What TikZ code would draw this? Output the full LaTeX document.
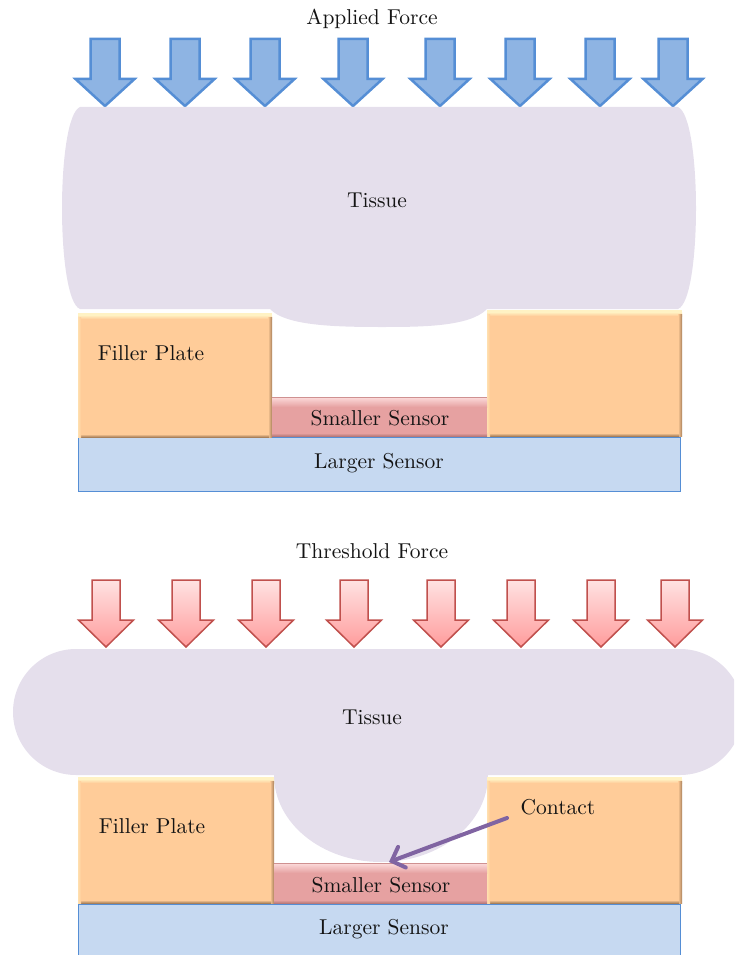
\documentclass[tikz,border=0pt]{standalone}
\usetikzlibrary{arrows.meta}

\definecolor{tissuecol}{HTML}{E5DFEC}
\definecolor{bluefill}{HTML}{8EB4E3}
\definecolor{bluedraw}{HTML}{558ED5}
\definecolor{redtop}{HTML}{FFE2E2}
\definecolor{redbot}{HTML}{FF9C9C}
\definecolor{reddraw}{HTML}{C0504D}
\definecolor{plateor}{HTML}{FFCC99}
\definecolor{platehi}{HTML}{FFF2C4}
\definecolor{platedk}{HTML}{A8805A}
\definecolor{sensred}{HTML}{E6A1A1}
\definecolor{sensredhi}{HTML}{FAD6D6}
\definecolor{sensreddk}{HTML}{B87A7A}
\definecolor{largefill}{HTML}{C6D9F1}
\definecolor{contactcol}{HTML}{8064A2}

\tikzset{
  lbl/.style={font=\fontsize{10}{12}\selectfont, scale=2.15, text=black!92, inner sep=0pt},
  blockbox/.style={draw=none, inner sep=0pt, outer sep=0pt, anchor=north west},
  plate/.style={blockbox, fill=plateor, path picture={
      \fill[platehi] (path picture bounding box.north west) rectangle ([yshift=-2pt]path picture bounding box.north east);
      \shade[top color=platehi, bottom color=plateor]
        ([yshift=-2pt]path picture bounding box.north west) rectangle ([yshift=-6pt]path picture bounding box.north east);
      \shade[left color=plateor, right color=platedk]
        ([xshift=-4pt,yshift=-4pt]path picture bounding box.north east) rectangle (path picture bounding box.south east);
      \shade[top color=plateor, bottom color=platedk]
        ([yshift=3pt]path picture bounding box.south west) rectangle ([xshift=-3pt]path picture bounding box.south east);
      \shade[left color=platehi!50!plateor, right color=plateor]
        ([yshift=-4pt]path picture bounding box.north west) rectangle ([xshift=3pt]path picture bounding box.south west);
  }},
  smallsens/.style={blockbox, fill=sensred, path picture={
      \fill[sensred!90!black] (path picture bounding box.north west) rectangle ([yshift=-1pt]path picture bounding box.north east);
      \shade[top color=sensredhi, bottom color=sensred]
        ([yshift=-1pt]path picture bounding box.north west) rectangle ([yshift=-10pt]path picture bounding box.north east);
      \shade[top color=sensred, bottom color=sensreddk]
        ([yshift=3pt]path picture bounding box.south west) rectangle (path picture bounding box.south east);
  }},
  largesens/.style={blockbox, fill=largefill, draw=bluedraw, line width=1pt},
  bluearrow/.style={fill=bluefill, draw=bluedraw, line width=2.5pt},
  redarrow/.style={top color=redtop, bottom color=redbot, draw=reddraw, line width=1.5pt},
  contactarrow/.style={draw=contactcol, line width=4pt, line cap=round,
      -{Straight Barb[length=11pt, width=22pt, line cap=round]}},
}

\begin{document}
\begin{tikzpicture}[x=1pt, y=-1pt]
\useasboundingbox (0,0) rectangle (734,955);
\clip (0,0) rectangle (734,955);

% ---------------- upper panel: applied force ----------------
\node[lbl] (appliedlbl) at (372,19) {Applied Force};

\foreach \c in {105,185,265,353,440,520,600,673}{
  \path[bluearrow] ({\c-14.5},39) -- ({\c+14.5},39) -- ({\c+14.5},79) -- ({\c+29.5},79)
    -- (\c,106) -- ({\c-29.5},79) -- ({\c-14.5},79) -- cycle;
}

% tissue resting on the plates
\fill[tissuecol]
  (80,107) -- (678,107)
  .. controls (702,117) and (702,300) .. (678,309)
  -- (487,309)
  .. controls (470,327) and (420,327) .. (380,327)
  .. controls (330,327) and (285,325) .. (270,309)
  -- (80,309)
  .. controls (56,300) and (56,117) .. (80,107) -- cycle;
\node[lbl] (tissueA) at (377,200) {Tissue};

\node[largesens, minimum width=602pt, minimum height=54pt] (largeA) at (78,437) {};
\node[plate, minimum width=194pt, minimum height=124pt] (plateAL) at (78,313) {};
\node[plate, minimum width=195pt, minimum height=126pt] (plateAR) at (487,310) {};
\node[smallsens, minimum width=215pt, minimum height=39pt] (smallA) at (272,397) {};

\node[lbl] (fillerA) at (151,353) {Filler Plate};
\node[lbl] (smallAlbl) at (380,418) {Smaller Sensor};
\node[lbl] (largeAlbl) at (379,463) {Larger Sensor};

% ---------------- lower panel: threshold force ----------------
\node[lbl] (thresholdlbl) at (372,551) {Threshold Force};

\foreach \c in {106,186,266,354,441,521,601,675}{
  \shadedraw[redarrow] ({\c-14},580) -- ({\c+14},580) -- ({\c+14},620) -- ({\c+27.5},620)
    -- (\c,647) -- ({\c-27.5},620) -- ({\c-14},620) -- cycle;
}

% deformed tissue pressing into the gap
\fill[tissuecol, rounded corners=63pt] (13,649) rectangle (743,775);
\fill[tissuecol] (381,775) ellipse [x radius=107, y radius=87];
\node[lbl] (tissueB) at (372,717) {Tissue};

\node[largesens, minimum width=602pt, minimum height=54pt] (largeB) at (78,904) {};
\node[plate, minimum width=196pt, minimum height=126pt] (plateBL) at (78,777) {};
\node[plate, minimum width=195pt, minimum height=126pt] (plateBR) at (487,777) {};
\node[smallsens, minimum width=213pt, minimum height=40pt] (smallB) at (274,863) {};

\node[lbl] (fillerB) at (152,826) {Filler Plate};
\node[lbl] (smallBlbl) at (381,885) {Smaller Sensor};
\node[lbl] (largeBlbl) at (384,929) {Larger Sensor};

\node[lbl] (contact) at (558,807) {Contact};
\coordinate (contactTail) at (507,818);
\coordinate (contactTip) at (389,862);
\draw[contactarrow] (contactTail) -- (contactTip);
\end{tikzpicture}
\end{document}
